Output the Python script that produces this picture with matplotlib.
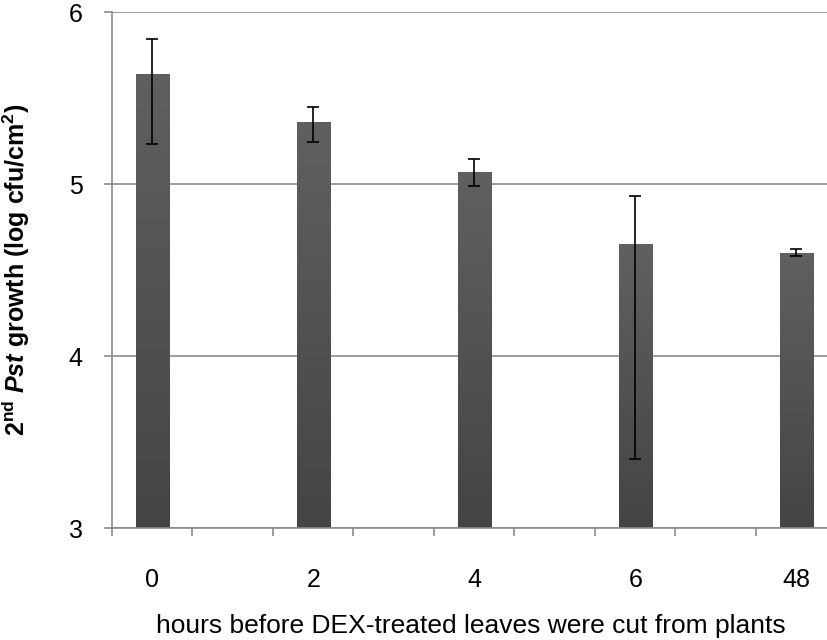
import matplotlib
matplotlib.use("Agg")
import matplotlib.pyplot as plt
import numpy as np

# values
hours = ["0", "2", "4", "6", "48"]
growth = [5.64, 5.36, 5.07, 4.65, 4.60]
err_low = [0.41, 0.115, 0.08, 1.25, 0.02]
err_high = [0.205, 0.09, 0.075, 0.28, 0.02]

plt.rcParams["font.family"] = ["Liberation Sans", "DejaVu Sans"]
plt.rcParams["mathtext.fontset"] = "custom"
plt.rcParams["mathtext.rm"] = "Liberation Sans"
plt.rcParams["mathtext.bf"] = "Liberation Sans:bold"
plt.rcParams["mathtext.it"] = "Liberation Sans:italic"
plt.rcParams["mathtext.bfit"] = "Liberation Sans:bold:italic"

grey = "#8c8c8c"

fig = plt.figure(figsize=(8.28, 6.4), dpi=100)
ax = fig.add_axes([112 / 828, 1 - 528 / 640, 724.5 / 828, 516 / 640])

# 9 category slots, bars sit on every other one
slots = np.arange(len(hours)) * 2
width = 0.41
bars = ax.bar(slots, [g - 3 for g in growth], bottom=3, width=width,
              color="#555555", zorder=2)

# vertical gradient inside each bar
grad = np.linspace(0, 1, 256).reshape(-1, 1)
cmap = matplotlib.colors.LinearSegmentedColormap.from_list("g", ["#444444", "#606060"])
for b in bars:
    x0, y0 = b.get_x(), b.get_y()
    im = ax.imshow(grad, cmap=cmap, aspect="auto", origin="lower",
                   extent=[x0, x0 + b.get_width(), y0, y0 + b.get_height()],
                   zorder=2.5)
    im.set_clip_path(b)

ax.errorbar(slots, growth, yerr=[err_low, err_high], fmt="none",
            ecolor="black", elinewidth=1.2, capsize=4.5, capthick=1.2, zorder=3)

ax.set_xlim(-0.5, 8.5)
ax.set_ylim(3, 6)
ax.set_yticks([3, 4, 5, 6])
ax.yaxis.grid(True, color=grey, linewidth=1.2, zorder=0)
ax.set_axisbelow(True)

ax.set_xticks(slots)
ax.set_xticklabels(hours)
ax.set_xticks(np.arange(-0.5, 9, 1), minor=True)
ax.tick_params(axis="x", which="major", length=0, pad=29, labelsize=18)
ax.tick_params(axis="x", which="minor", length=6, width=1.2, color=grey, direction="out")
ax.tick_params(axis="y", length=6, width=1.2, color=grey, pad=15, labelsize=18)

for s in ["top", "right"]:
    ax.spines[s].set_visible(False)
for s in ["left", "bottom"]:
    ax.spines[s].set_color(grey)
    ax.spines[s].set_linewidth(1.2)

ax.set_xlabel("hours before DEX-treated leaves were cut from plants", fontsize=19)
ax.xaxis.set_label_coords(0.495, -0.166)
ax.set_ylabel(r"$\mathbf{2^{nd}}\ \mathbfit{Pst}\ \mathbf{growth\ (log\ cfu/cm^2)}$",
              fontsize=18)
ax.yaxis.set_label_coords(-0.111, 0.5)

fig.savefig("out.png", dpi=100)
